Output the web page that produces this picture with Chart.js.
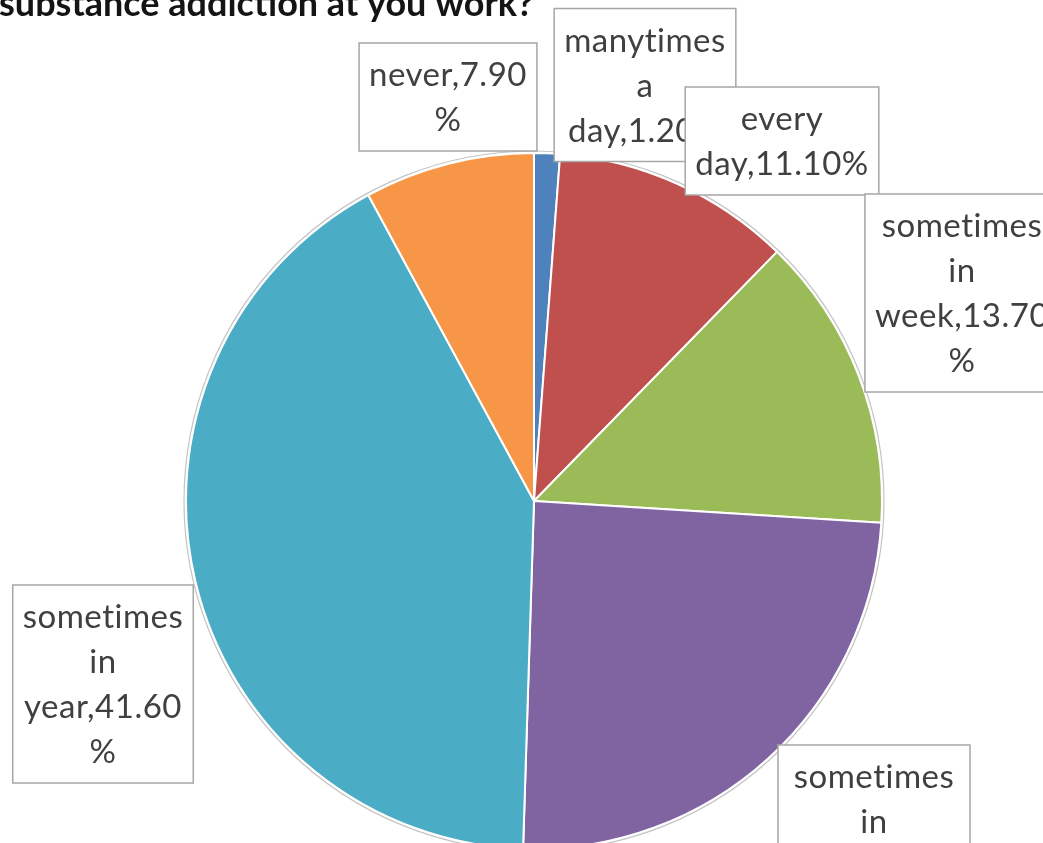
<!DOCTYPE html>
<html><head><meta charset="utf-8">
<script src="https://cdn.jsdelivr.net/npm/chart.js@4"></script>
<style>html,body{margin:0;padding:0;background:#fff;overflow:hidden}#wrap{position:relative;width:1043px;height:843px}</style>
</head><body><div id="wrap"><canvas id="c" width="1043" height="843"></canvas></div>
<script>
const categories = ["manytimes a day", "every day", "sometimes in week", "sometimes in month", "sometimes in year", "never"];
const percentages = [1.2, 11.1, 13.7, 24.5, 41.6, 7.9];
const titleText = "substance addiction at you work?";
const sliceColors = ["#4F81BD", "#C0504D", "#9BBB59", "#8064A2", "#4BACC6", "#F79646"];

// layout (not data): label box centre offsets from the pie centre (px) and max text widths
const labelOffsets = [[111, -416], [248, -360], [428, -208], [340, 343], [-431, 183], [-86, -404]];
const labelWrapWidths = [185, 185, 178, 185, 165, 165];
const LABEL_FONT = "33px Lato";
const LINE_H = 45, PAD_X = 10, PAD_Y = 9;

// Excel-like wrapping: one word per line, over-long words broken by characters
function wrapText(ctx, text, maxW) {
  const lines = [];
  for (const w of text.split(" ")) {
    let piece = "";
    for (const ch of w) {
      if (piece && ctx.measureText(piece + ch).width > maxW) { lines.push(piece); piece = ch; }
      else piece += ch;
    }
    if (piece) lines.push(piece);
  }
  return lines;
}

const labelPlugin = {
  id: "excelLabels",
  afterDatasetsDraw(chart) {
    const ctx = chart.ctx;
    const meta = chart.getDatasetMeta(0);
    const arc0 = meta.data[0];
    const cx = arc0.x, cy = arc0.y, r = arc0.outerRadius;
    ctx.save();
    // faint outer outline
    ctx.beginPath();
    ctx.arc(cx, cy, r + 2, 0, Math.PI * 2);
    ctx.strokeStyle = "#c4c4c4";
    ctx.lineWidth = 1.2;
    ctx.stroke();
    // title (cropped at the top of the picture)
    ctx.font = "bold 36px Lato";
    ctx.fillStyle = "#141414";
    ctx.textAlign = "left";
    ctx.textBaseline = "alphabetic";
    ctx.fillText(titleText, -1, 16);
    // data labels
    ctx.font = LABEL_FONT;
    if ("letterSpacing" in ctx) ctx.letterSpacing = "0.5px";
    chart.data.labels.forEach((name, i) => {
      const txt = name + "," + percentages[i].toFixed(2) + "%";
      const lines = wrapText(ctx, txt, labelWrapWidths[i]);
      const maxW = Math.max(...lines.map(l => ctx.measureText(l).width));
      const w = maxW + PAD_X * 2, h = lines.length * LINE_H + PAD_Y * 2;
      const bx = cx + labelOffsets[i][0] - w / 2, by = cy + labelOffsets[i][1] - h / 2;
      ctx.fillStyle = "#ffffff";
      ctx.fillRect(bx, by, w, h);
      ctx.strokeStyle = "#a6a6a6";
      ctx.lineWidth = 1.5;
      ctx.strokeRect(bx, by, w, h);
      ctx.fillStyle = "#404040";
      ctx.textAlign = "center";
      ctx.textBaseline = "middle";
      lines.forEach((l, k) => ctx.fillText(l, bx + w / 2, by + PAD_Y + LINE_H * (k + 0.5) + 1));
    });
    ctx.restore();
  }
};

new Chart(document.getElementById("c"), {
  type: "pie",
  data: {
    labels: categories,
    datasets: [{
      data: percentages,
      backgroundColor: sliceColors,
      borderColor: "#ffffff",
      borderWidth: 2,
      clip: false
    }]
  },
  options: {
    responsive: false,
    animation: false,
    radius: 348,
    layout: { padding: { left: 25, right: 0, top: 159, bottom: 0 } },
    plugins: { legend: { display: false }, tooltip: { enabled: false }, title: { display: false } }
  },
  plugins: [labelPlugin]
});
</script></body></html>
